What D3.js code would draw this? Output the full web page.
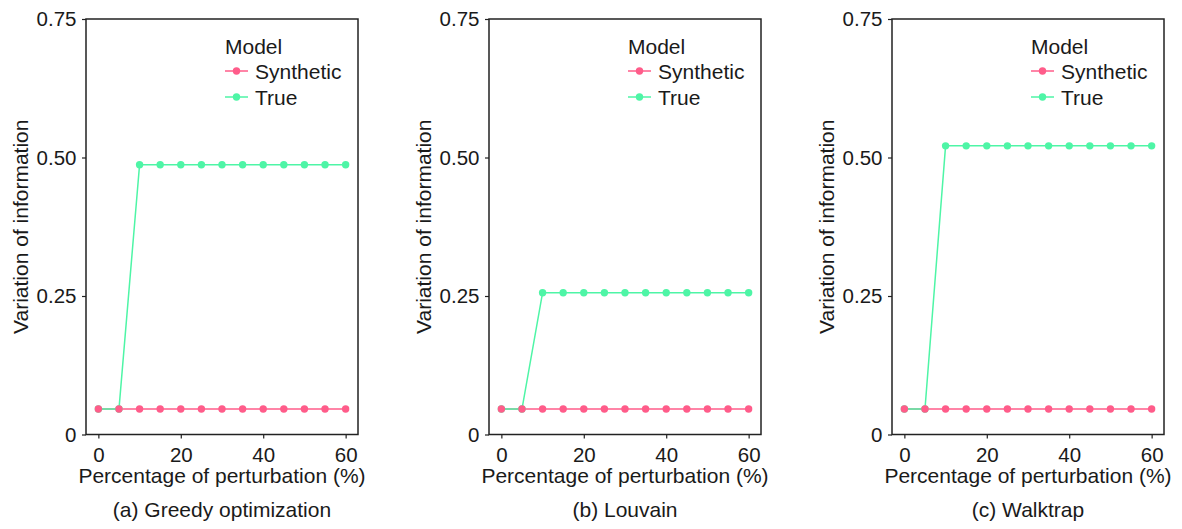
<!DOCTYPE html>
<html><head><meta charset="utf-8">
<script src="https://cdn.jsdelivr.net/npm/d3@7"></script>
<style>body{margin:0;background:#fff}svg{display:block}text{font-family:"Liberation Sans",Arial,sans-serif;fill:#1a1a1a}</style>
</head><body><svg id="c" width="1182" height="529"></svg>
<script>
const xValues = [0,5,10,15,20,25,30,35,40,45,50,55,60];
const synGreedy = [0.046,0.046,0.046,0.046,0.046,0.046,0.046,0.046,0.046,0.046,0.046,0.046,0.046];
const trueGreedy = [0.046,0.046,0.487,0.487,0.487,0.487,0.487,0.487,0.487,0.487,0.487,0.487,0.487];
const synLouvain = [0.046,0.046,0.046,0.046,0.046,0.046,0.046,0.046,0.046,0.046,0.046,0.046,0.046];
const trueLouvain = [0.046,0.046,0.256,0.256,0.256,0.256,0.256,0.256,0.256,0.256,0.256,0.256,0.256];
const synWalktrap = [0.046,0.046,0.046,0.046,0.046,0.046,0.046,0.046,0.046,0.046,0.046,0.046,0.046];
const trueWalktrap = [0.046,0.046,0.521,0.521,0.521,0.521,0.521,0.521,0.521,0.521,0.521,0.521,0.521];
const captions = ["(a) Greedy optimization","(b) Louvain","(c) Walktrap"];
const xTicks = [0,20,40,60];
const yTicks = [0,0.25,0.5,0.75];
const yTickLabels = ["0","0.25","0.50","0.75"];
const seriesNames = ["Synthetic","True"];
const colors = {Synthetic:"#ff5c8a", True:"#4ef5a6"};

const panels = [
  {syn:synGreedy, tru:trueGreedy},
  {syn:synLouvain, tru:trueLouvain},
  {syn:synWalktrap, tru:trueWalktrap}
];
const svg = d3.select("#c");
const W = 272, plotTop = 19, plotBottom = 434.5, lefts = [86,489,892];

panels.forEach((p,i)=>{
  const L = lefts[i];
  const g = svg.append("g").attr("transform",`translate(${L},0)`);
  const x = d3.scaleLinear().domain([-3,63]).range([0,W]);
  const y = d3.scaleLinear().domain([0,0.75]).range([plotBottom,plotTop]);
  const xa = g.append("g").attr("transform",`translate(0,${plotBottom})`)
    .call(d3.axisBottom(x).tickValues(xTicks).tickSize(4).tickPadding(9).tickFormat(d3.format("d")));
  const ya = g.append("g")
    .call(d3.axisLeft(y).tickValues(yTicks).tickSize(4).tickPadding(5.5).tickFormat((d,j)=>yTickLabels[j]));
  [xa,ya].forEach(a=>{
    a.select(".domain").remove();
    a.selectAll("line").attr("stroke","#222").attr("stroke-width",1.2);
    a.selectAll("text").style("font-size","20.5px").attr("fill","#1a1a1a");
  });
  g.append("rect").attr("x",0).attr("y",plotTop).attr("width",W).attr("height",plotBottom-plotTop)
    .attr("fill","none").attr("stroke","#222").attr("stroke-width",1.5);
  const line = d3.line().x((d,j)=>x(xValues[j])).y(d=>y(d));
  g.append("path").datum(p.syn).attr("d",line).attr("fill","none").attr("stroke",colors.Synthetic).attr("stroke-width",1.5);
  g.append("path").datum(p.tru).attr("d",line).attr("fill","none").attr("stroke",colors.True).attr("stroke-width",1.5);
  g.selectAll(".pt").data(p.tru).enter().append("circle")
    .attr("cx",(d,j)=>x(xValues[j])).attr("cy",d=>y(d)).attr("r",3.7).attr("fill",colors.True);
  g.selectAll(".ps").data(p.syn).enter().append("circle")
    .attr("cx",(d,j)=>x(xValues[j])).attr("cy",d=>y(d)).attr("r",3.7).attr("fill",colors.Synthetic);
  const lg = g.append("g").attr("transform","translate(139,0)");
  lg.append("text").attr("x",0).attr("y",53.5).style("font-size","21px").text("Model");
  seriesNames.forEach((n,k)=>{
    const cy = 71 + k*26;
    lg.append("line").attr("x1",0).attr("x2",23).attr("y1",cy).attr("y2",cy).attr("stroke",colors[n]).attr("stroke-width",1.5);
    lg.append("circle").attr("cx",11.5).attr("cy",cy).attr("r",3.7).attr("fill",colors[n]);
    lg.append("text").attr("x",30).attr("y",cy+7.5).style("font-size","21px").text(n);
  });
  g.append("text").attr("x",W/2).attr("y",483).attr("text-anchor","middle").style("font-size","21px").text("Percentage of perturbation (%)");
  g.append("text").attr("transform",`translate(-58,${(plotTop+plotBottom)/2}) rotate(-90)`).attr("text-anchor","middle").style("font-size","21px").text("Variation of information");
  g.append("text").attr("x",W/2).attr("y",517).attr("text-anchor","middle").style("font-size","21px").text(captions[i]);
});
</script></body></html>
